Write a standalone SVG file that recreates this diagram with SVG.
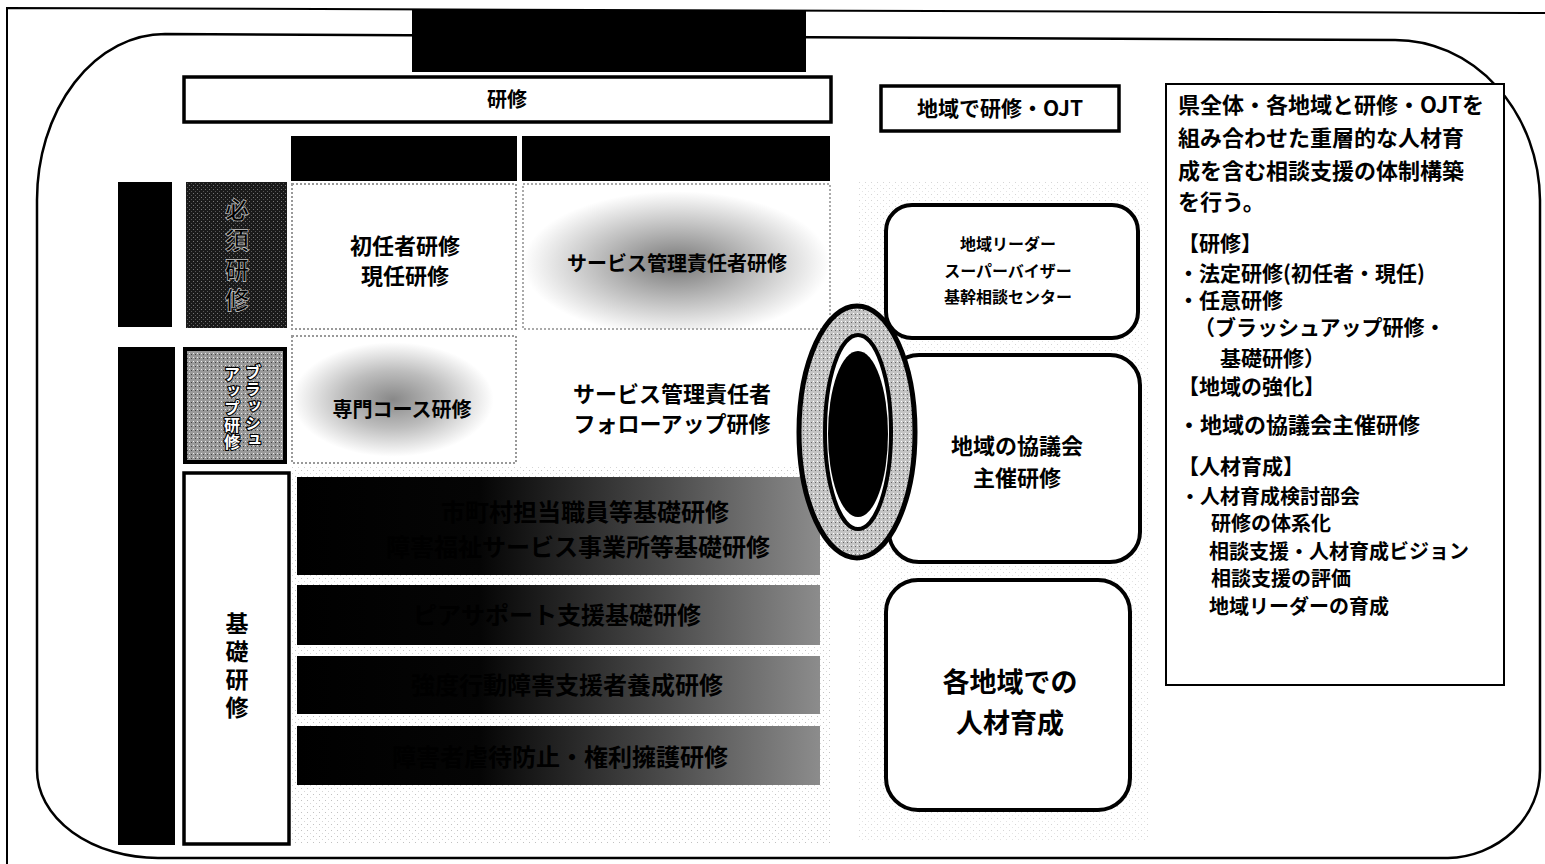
<svg xmlns="http://www.w3.org/2000/svg" width="1545" height="864" viewBox="0 0 1545 864">
<defs>
<style>
.jp{font-family:"Noto Sans CJK JP","Noto Sans CJK SC",sans-serif;font-weight:bold;fill:#000}
.mid{text-anchor:middle}
.box{fill:#fff;stroke:#000;stroke-width:3.5}
.rbox{fill:#fff;stroke:#000;stroke-width:4}
.blk{fill:#000}
.note{font-size:22px}
.small{font-size:20px}
.vt{font-family:"Noto Sans CJK JP","Noto Sans CJK SC",sans-serif;font-weight:bold;text-anchor:middle;writing-mode:vertical-rl}
.bu{font-size:16px;fill:#fff;stroke:#000;stroke-width:2.2;paint-order:stroke}
</style>
<pattern id="speck" width="6" height="6" patternUnits="userSpaceOnUse">
<rect width="6" height="6" fill="#fff"/>
<rect x="1" y="2" width="1" height="1" fill="#999"/>
<rect x="4" y="5" width="1" height="1" fill="#bbb"/>
</pattern>
<pattern id="darkspeck" width="4" height="4" patternUnits="userSpaceOnUse">
<rect width="4" height="4" fill="#1a1a1a"/>
<rect x="1" y="1" width="1" height="1" fill="#777"/>
<rect x="3" y="3" width="1" height="1" fill="#555"/>
</pattern>
<pattern id="grayspeck" width="4" height="4" patternUnits="userSpaceOnUse">
<rect width="4" height="4" fill="#9a9a9a"/>
<rect x="1" y="1" width="1" height="1" fill="#eee"/>
<rect x="3" y="2" width="1" height="1" fill="#444"/>
</pattern>
<pattern id="ringspeck" width="4" height="4" patternUnits="userSpaceOnUse">
<rect width="4" height="4" fill="#c4c4c4"/>
<rect x="1" y="1" width="1" height="1" fill="#fff"/>
<rect x="3" y="2" width="1" height="1" fill="#666"/>
</pattern>
<linearGradient id="bar" x1="0" y1="0" x2="1" y2="0">
<stop offset="0" stop-color="#000"/>
<stop offset="0.35" stop-color="#050505"/>
<stop offset="0.7" stop-color="#4a4a4a"/>
<stop offset="1" stop-color="#8c8c8c"/>
</linearGradient>
<linearGradient id="bartext" x1="380" y1="0" x2="780" y2="0" gradientUnits="userSpaceOnUse">
<stop offset="0" stop-color="#000"/>
<stop offset="0.35" stop-color="#111"/>
<stop offset="0.55" stop-color="#aaa"/>
<stop offset="1" stop-color="#fff"/>
</linearGradient>
<radialGradient id="blur1" cx="0.5" cy="0.55" r="0.5">
<stop offset="0" stop-color="#777"/>
<stop offset="0.45" stop-color="#b5b5b5"/>
<stop offset="1" stop-color="#fff"/>
</radialGradient>
<radialGradient id="blur2" cx="0.45" cy="0.5" r="0.45">
<stop offset="0" stop-color="#888"/>
<stop offset="0.5" stop-color="#bdbdbd"/>
<stop offset="1" stop-color="#fff"/>
</radialGradient>
</defs>

<rect width="1545" height="864" fill="#fff"/>

<g id="frame">
<path d="M1545,13 L7,8 L7,864" fill="none" stroke="#000" stroke-width="2"/>
<path d="M165,34 L1395,40 A145,162 0 0 1 1540,200 V770 A95,88 0 0 1 1448,858 H158 A121,88 0 0 1 37,770 V200 A128,166 0 0 1 165,34 Z" fill="none" stroke="#000" stroke-width="2.5"/>
<rect x="412" y="10" width="394" height="62" class="blk"/>
</g>

<g id="backgrounds">
<rect x="291" y="467" width="540" height="378" fill="url(#speck)" opacity="0.6"/>
<rect x="858" y="180" width="292" height="660" fill="url(#speck)" opacity="0.4"/>
</g>

<g id="header-kenshu">
<rect x="184" y="77" width="647" height="45" class="box"/>
<text x="507" y="107" class="jp mid" font-size="20">研修</text>
</g>
<g id="header-cols">
<rect x="291" y="136" width="226" height="45" class="blk"/>
<rect x="522" y="136" width="308" height="45" class="blk"/>
</g>

<g id="header-chiiki">
<rect x="881" y="86" width="238" height="45" class="box"/>
<text x="1000" y="116" class="jp mid" font-size="21">地域で研修・OJT</text>
</g>

<g id="left-bars">
<rect x="118" y="182" width="54" height="145" class="blk"/>
<rect x="118" y="347" width="57" height="498" class="blk"/>
</g>

<g id="hissu">
<rect x="186" y="182" width="101" height="146" fill="url(#darkspeck)"/>
<text class="vt" x="237" y="258" font-size="24" letter-spacing="6" fill="#000" stroke="#ccc" stroke-width="0.7">必須研修</text>
</g>

<g id="brushup">
<rect x="185" y="349" width="100" height="113" fill="url(#grayspeck)" stroke="#000" stroke-width="4"/>
<text class="vt bu" x="253" y="406" letter-spacing="1">ブラッシュ</text>
<text class="vt bu" x="232" y="408" letter-spacing="1">アップ研修</text>
</g>

<g id="kiso">
<rect x="184" y="473" width="105" height="371" class="box"/>
<text class="vt" x="237" y="668" font-size="23" letter-spacing="5">基礎研修</text>
</g>

<g id="shoninsha">
<rect x="292" y="184" width="224" height="145" fill="#fff" stroke="#999" stroke-width="2" stroke-dasharray="2 2"/>
<text x="405" y="254" class="jp mid" font-size="22">初任者研修</text>
<text x="405" y="284" class="jp mid" font-size="22">現任研修</text>
</g>

<g id="sabikan">
<rect x="523" y="184" width="307" height="145" fill="url(#blur1)" stroke="#aaa" stroke-width="2" stroke-dasharray="2 2"/>
<text x="677" y="271" class="jp mid" font-size="20">サービス管理責任者研修</text>
</g>

<g id="senmon">
<rect x="292" y="336" width="224" height="127" fill="url(#blur2)" stroke="#999" stroke-width="2" stroke-dasharray="2 2"/>
<text x="402" y="417" class="jp mid" font-size="20">専門コース研修</text>
</g>

<g id="followup">
<rect x="523" y="347" width="290" height="116" fill="#fff"/>
<text x="672" y="402" class="jp mid" font-size="22" font-weight="normal">サービス管理責任者</text>
<text x="672" y="432" class="jp mid" font-size="22" font-weight="normal">フォローアップ研修</text>
</g>

<g id="bar1">
<rect x="297" y="477" width="523" height="98" fill="url(#bar)"/>
<text x="585" y="521" class="jp mid" font-size="24" fill="url(#bartext)">市町村担当職員等基礎研修</text>
<text x="578" y="556" class="jp mid" font-size="24" fill="url(#bartext)">障害福祉サービス事業所等基礎研修</text>
</g>
<g id="bar2">
<rect x="297" y="585" width="523" height="60" fill="url(#bar)"/>
<text x="557" y="624" class="jp mid" font-size="24" fill="url(#bartext)">ピアサポート支援基礎研修</text>
</g>
<g id="bar3">
<rect x="297" y="656" width="523" height="58" fill="url(#bar)"/>
<text x="567" y="694" class="jp mid" font-size="24" fill="url(#bartext)">強度行動障害支援者養成研修</text>
</g>
<g id="bar4">
<rect x="297" y="726" width="523" height="59" fill="url(#bar)"/>
<text x="560" y="766" class="jp mid" font-size="24" fill="url(#bartext)">障害者虐待防止・権利擁護研修</text>
</g>

<g id="leader">
<rect x="886" y="205" width="252" height="133" rx="26" class="rbox"/>
<text x="1008" y="250" class="jp mid" font-size="16">地域リーダー</text>
<text x="1008" y="277" class="jp mid" font-size="16">スーパーバイザー</text>
<text x="1008" y="303" class="jp mid" font-size="16">基幹相談センター</text>
</g>

<g id="kyogikai">
<rect x="889" y="355" width="251" height="207" rx="30" class="rbox"/>
<text x="1017" y="454" class="jp mid" font-size="22" font-weight="normal">地域の協議会</text>
<text x="1017" y="486" class="jp mid" font-size="22" font-weight="normal">主催研修</text>
</g>

<g id="jinzai">
<rect x="886" y="580" width="244" height="230" rx="32" class="rbox"/>
<text x="1010" y="692" class="jp mid" font-size="27" font-weight="normal">各地域での</text>
<text x="1010" y="733" class="jp mid" font-size="27" font-weight="normal">人材育成</text>
</g>

<g id="ring">
<ellipse cx="857" cy="432" rx="58" ry="126" fill="url(#ringspeck)" stroke="#000" stroke-width="5"/>
<ellipse cx="858" cy="432" rx="33" ry="97" fill="#fff" stroke="#000" stroke-width="4"/>
<ellipse cx="858" cy="434" rx="30" ry="83" class="blk"/>
</g>

<g id="note">
<rect x="1166" y="84" width="338" height="601" fill="#fff" stroke="#000" stroke-width="2"/>
<text class="jp note" x="1178" y="113">県全体・各地域と研修・OJTを</text>
<text class="jp note" x="1178" y="146">組み合わせた重層的な人材育</text>
<text class="jp note" x="1178" y="179">成を含む相談支援の体制構築</text>
<text class="jp note" x="1178" y="210">を行う。</text>
<text class="jp" font-size="21" x="1178" y="251">【研修】</text>
<text class="jp" font-size="21" x="1178" y="281">・法定研修(初任者・現任)</text>
<text class="jp" font-size="21" x="1178" y="308">・任意研修</text>
<text class="jp" font-size="21" x="1194" y="335">（ブラッシュアップ研修・</text>
<text class="jp" font-size="21" x="1220" y="366">基礎研修）</text>
<text class="jp" font-size="21" x="1178" y="394">【地域の強化】</text>
<text class="jp" font-size="22" x="1178" y="433">・地域の協議会主催研修</text>
<text class="jp" font-size="21" x="1178" y="474">【人材育成】</text>
<text class="jp small" x="1180" y="504">・人材育成検討部会</text>
<text class="jp small" x="1211" y="531">研修の体系化</text>
<text class="jp small" x="1209" y="559">相談支援・人材育成ビジョン</text>
<text class="jp small" x="1211" y="586">相談支援の評価</text>
<text class="jp small" x="1209" y="614">地域リーダーの育成</text>
</g>
</svg>
